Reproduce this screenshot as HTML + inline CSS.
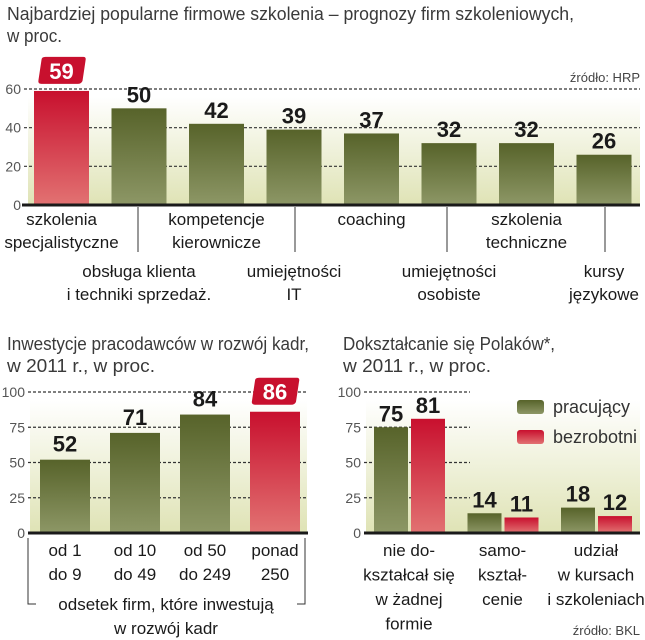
<!DOCTYPE html>
<html><head><meta charset="utf-8"><style>
html,body{margin:0;padding:0;background:#fff;}
svg{display:block;font-family:"Liberation Sans",sans-serif;}
.t{fill:#3a3a3a;font-size:18px;}
.lab{fill:#1a1a1a;font-size:17px;text-anchor:middle;}
.tick{fill:#555;font-size:14px;text-anchor:end;}
.val{fill:#1a1a1a;font-size:22px;font-weight:bold;text-anchor:middle;}
.bval{fill:#fff;font-size:22px;font-weight:bold;text-anchor:middle;}
.src{fill:#444;font-size:13px;text-anchor:end;}
</style></head><body>
<svg id="s" width="645" height="640" viewBox="0 0 645 640" xmlns="http://www.w3.org/2000/svg">
<defs>
<linearGradient id="bg" x1="0" y1="0" x2="0" y2="1"><stop offset="0" stop-color="#ffffff"/><stop offset="1" stop-color="#dfe3b5"/></linearGradient>
<linearGradient id="gr" x1="0" y1="0" x2="0" y2="1"><stop offset="0" stop-color="#57632a"/><stop offset="1" stop-color="#8d9766"/></linearGradient>
<linearGradient id="rd" x1="0" y1="0" x2="0" y2="1"><stop offset="0" stop-color="#c8102e"/><stop offset="1" stop-color="#e27272"/></linearGradient>
</defs>
<text class="t" x="7" y="20" textLength="567" lengthAdjust="spacingAndGlyphs">Najbardziej popularne firmowe szkolenia – prognozy firm szkoleniowych,</text>
<text class="t" x="7" y="42" textLength="55" lengthAdjust="spacingAndGlyphs">w proc.</text>
<text class="src" x="640" y="82">źródło: HRP</text>
<text class="t" x="7" y="350" textLength="302" lengthAdjust="spacingAndGlyphs">Inwestycje pracodawców w rozwój kadr,</text>
<text class="t" x="7" y="372" textLength="148" lengthAdjust="spacingAndGlyphs">w 2011 r., w proc.</text>
<text class="t" x="343" y="350" textLength="212" lengthAdjust="spacingAndGlyphs">Dokształcanie się Polaków*,</text>
<text class="t" x="343" y="372" textLength="148" lengthAdjust="spacingAndGlyphs">w 2011 r., w proc.</text>
<text class="src" x="640" y="635">źródło: BKL</text>
<g id="c1"></g><g id="c2"></g><g id="c3"></g>
</svg>
<script>
const c1Cats = [["szkolenia","specjalistyczne"],["obsługa klienta","i techniki sprzedaż."],["kompetencje","kierownicze"],["umiejętności","IT"],["coaching"],["umiejętności","osobiste"],["szkolenia","techniczne"],["kursy","językowe"]];
const c1Values = [59,50,42,39,37,32,32,26];
const c1Ticks = [0,20,40,60];
const c2Cats = [["od 1","do 9"],["od 10","do 49"],["od 50","do 249"],["ponad","250"]];
const c2Values = [52,71,84,86];
const c2Ticks = [0,25,50,75,100];
const c3Cats = [["nie do-","kształcał się","w żadnej","formie"],["samo-","kształ-","cenie"],["udział","w kursach","i szkoleniach"]];
const c3Working = [75,14,18];
const c3Unemployed = [81,11,12];
const c3Ticks = [0,25,50,75,100];

const NS="http://www.w3.org/2000/svg";
function mk(p,tag,a,txt){const e=document.createElementNS(NS,tag);for(const k in a)e.setAttribute(k,a[k]);if(txt!==undefined)e.textContent=txt;p.appendChild(e);return e;}
function badge(g,cx,top,v,name){
  const p=mk(g,'path',{d:`M${cx-20} ${top+3} Q${cx-20} ${top} ${cx-16} ${top} L${cx+22} ${top} Q${cx+25} ${top} ${cx+24} ${top+4} L${cx+21} ${top+24} Q${cx+20} ${top+27} ${cx+16} ${top+27} L${cx-20} ${top+27} Q${cx-24} ${top+27} ${cx-23} ${top+23} Z`,fill:'#c8102e'});
  
  
  const t=mk(g,'text',{class:'bval',x:cx,y:top+22},v);
  
  
}
function grid(g,ticks,max,y0,yf,x0,x1,bx0,bx1,name){
  const y=v=>y0-(v/max)*(y0-yf);
  const bgr=mk(g,'rect',{x:bx0,y:y(max)+8,width:bx1-bx0,height:y0-y(max)-8,fill:'url(#bg)'});
  
  
  ticks.forEach(t=>{
    const tl=mk(g,'text',{class:'tick',x:x0-3,y:y(t)+5},t);
    
    
    if(t>0){const l=mk(g,'line',{x1:x0,x2:x1,y1:y(t),y2:y(t),stroke:'#333','stroke-width':1.2,'stroke-dasharray':'3 2'});
      
      }
  });
  return y;
}
function axis(g,y0,x0,x1,name){const a=mk(g,'line',{x1:x0,x2:x1,y1:y0,y2:y0,stroke:'#1a1a1a','stroke-width':3});
  
  }

// Chart 1
(function(){
  const g=document.getElementById('c1');
  const y0=205, yf=89, max=60;
  const y=grid(g,c1Ticks,max,y0,yf,24,640,28,640,'chart1');
  c1Values.forEach((v,i)=>{
    const x=34+i*77.5, w=55, red=i===0;
    const r=mk(g,'rect',{x:x,y:y(v),width:w,height:y0-y(v),fill:red?'url(#rd)':'url(#gr)'});
    
    
    if(red){badge(g,x+w/2,y(v)-34,v,'chart1-bar');}
    else{const t=mk(g,'text',{class:'val',x:x+w/2,y:y(v)-6},v);
      
      }
    const lines=c1Cats[i]; const base=i%2===0?225:277;
    lines.forEach((s,k)=>{const t=mk(g,'text',{class:'lab',x:x+w/2,y:base+k*23},s);
      
      });
  });
  axis(g,y0,22,640,'chart1');
  [138,295,447,605].forEach(sx=>{const l=mk(g,'line',{x1:sx,x2:sx,y1:207,y2:252,stroke:'#333','stroke-width':1});
    
    });
})();

// Chart 2
(function(){
  const g=document.getElementById('c2');
  const y0=533, yf=392, max=100;
  const y=grid(g,c2Ticks,max,y0,yf,28,308,30,307,'chart2');
  c2Values.forEach((v,i)=>{
    const x=40+i*70, w=50, red=i===3;
    const r=mk(g,'rect',{x:x,y:y(v),width:w,height:y0-y(v),fill:red?'url(#rd)':'url(#gr)'});
    
    
    if(red){badge(g,x+w/2,y(v)-34,v,'chart2-bar');}
    else{const t=mk(g,'text',{class:'val',x:x+w/2,y:y(v)-8},v);
      
      }
    c2Cats[i].forEach((s,k)=>{const t=mk(g,'text',{class:'lab',x:x+w/2,y:556+k*24},s);
      
      });
  });
  axis(g,y0,28,308,'chart2');
  const b=mk(g,'path',{d:'M28 538 V604 H36 M305 538 V604 H297',fill:'none',stroke:'#333','stroke-width':1});
  
  
  const t1=mk(g,'text',{class:'lab',x:166,y:610},'odsetek firm, które inwestują');
  
  
  const t2=mk(g,'text',{class:'lab',x:166,y:634},'w rozwój kadr');
  
  
})();

// Chart 3
(function(){
  const g=document.getElementById('c3');
  const y0=533, yf=392, max=100;
  const y=grid(g,c3Ticks,max,y0,yf,364,470,366,640,'chart3');
  c3Working.forEach((v,i)=>{
    const gx=374+i*93.5, w=34;
    [[v,'url(#gr)',gx,'chart3-bar-working'],[c3Unemployed[i],'url(#rd)',gx+37,'chart3-bar-unemployed']].forEach(([val,f,x,n])=>{
      const r=mk(g,'rect',{x:x,y:y(val),width:w,height:y0-y(val),fill:f});
      
      
      const t=mk(g,'text',{class:'val',x:x+w/2,y:y(val)-6},val);
      
      
    });
    c3Cats[i].forEach((s,k)=>{const t=mk(g,'text',{class:'lab',x:gx+35,y:556+k*24.5},s);
      
      });
  });
  axis(g,y0,364,640,'chart3');
  const l1=mk(g,'rect',{x:517,y:400,width:27,height:14,rx:3,fill:'url(#gr)'});
  
  
  const l2=mk(g,'rect',{x:517,y:430,width:27,height:14,rx:3,fill:'url(#rd)'});
  
  
  const lt1=mk(g,'text',{x:553,y:413,fill:'#333','font-size':18},'pracujący');
  
  
  const lt2=mk(g,'text',{x:553,y:443,fill:'#333','font-size':18},'bezrobotni');
  
  
})();
</script>
</body></html>
